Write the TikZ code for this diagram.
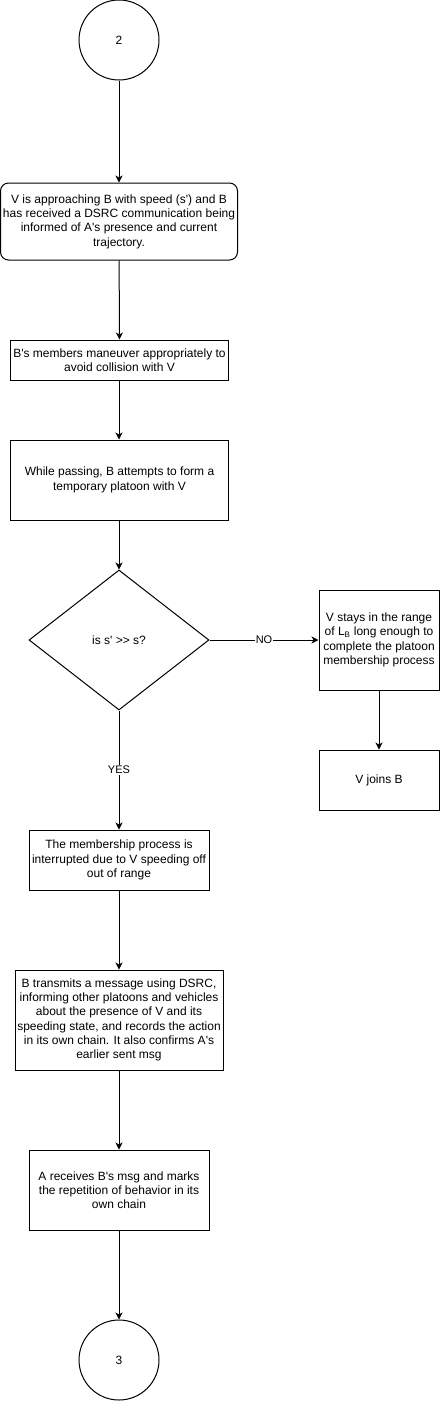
\documentclass[tikz,border=0pt]{standalone}
\usepackage{fontspec}
\setmainfont{Liberation Sans}[Ligatures=TeXOff]
\usetikzlibrary{shapes.geometric,arrows.meta}
\tikzset{
	stepbox/.style={draw, line width=1pt, align=center, inner sep=2pt, font=\fontsize{12}{14.3}\selectfont},
	endpoint/.style={draw, circle, line width=1pt, minimum size=80pt, inner sep=0pt, font=\fontsize{12}{14.3}\selectfont},
	choice/.style={draw, diamond, line width=1pt, minimum width=180pt, minimum height=140pt, inner sep=0pt, align=center, font=\fontsize{12}{14.3}\selectfont},
	flow/.style={line width=1pt, -{Stealth[length=7pt,width=7pt,inset=2pt]}},
	answer/.style={fill=white, inner sep=1pt, font=\fontsize{11}{13}\selectfont}
}
\begin{document}
\begin{tikzpicture}[x=1pt, y=-1pt]
	\useasboundingbox (0,0) rectangle (440,1401);
	\node[endpoint] (c2) at (119,40) {2};
	\node[stepbox, rounded corners=8pt, minimum width=237pt, minimum height=77pt] (s1) at (119,221.5) {V is approaching B with speed (s') and B\\has received a DSRC communication being\\informed of A's presence and current\\trajectory.};
	\node[stepbox, minimum width=218pt, minimum height=40pt] (s2) at (119.5,360) {B's members maneuver appropriately to\\avoid collision with V};
	\node[stepbox, minimum width=218pt, minimum height=80pt] (s3) at (119.5,480) {While passing, B attempts to form a\\temporary platoon with V};
	\node[choice] (d) at (119,640) {is s' {>}{>} s?};
	\node[stepbox, minimum width=120pt, minimum height=100pt] (n1) at (379,640) {V stays in the range\\of L\textsubscript{B} long enough to\\complete the platoon\\membership process};
	\node[stepbox, minimum width=120pt, minimum height=60pt] (n2) at (379,780) {V joins B};
	\node[stepbox, minimum width=180pt, minimum height=60pt] (y1) at (119,860) {The membership process is\\interrupted due to V speeding off\\out of range};
	\node[stepbox, minimum width=208pt, minimum height=100pt] (y2) at (119,1020) {B transmits a message using DSRC,\\informing other platoons and vehicles\\about the presence of V and its\\speeding state, and records the action\\in its own chain. It also confirms A's\\earlier sent msg};
	\node[stepbox, minimum width=180pt, minimum height=80pt] (y3) at (119,1190) {A receives B's msg and marks\\the repetition of behavior in its\\own chain};
	\node[endpoint] (c3) at (119,1360) {3};
	\draw[flow] (c2) -- (s1);
	\draw[flow] (s1) -- (s2);
	\draw[flow] (s2.south -| s1.south) -- (s3.north -| s1.south);
	\draw[flow] (s3.south -| d.north) -- (d);
	\draw[flow] (d.east) -- node[answer] {NO} (n1.west);
	\draw[flow] (n1) -- (n2);
	\draw[flow] (d.south) -- node[answer] {YES} (y1.north);
	\draw[flow] (y1) -- (y2);
	\draw[flow] (y2) -- (y3);
	\draw[flow] (y3) -- (c3);
\end{tikzpicture}
\end{document}
